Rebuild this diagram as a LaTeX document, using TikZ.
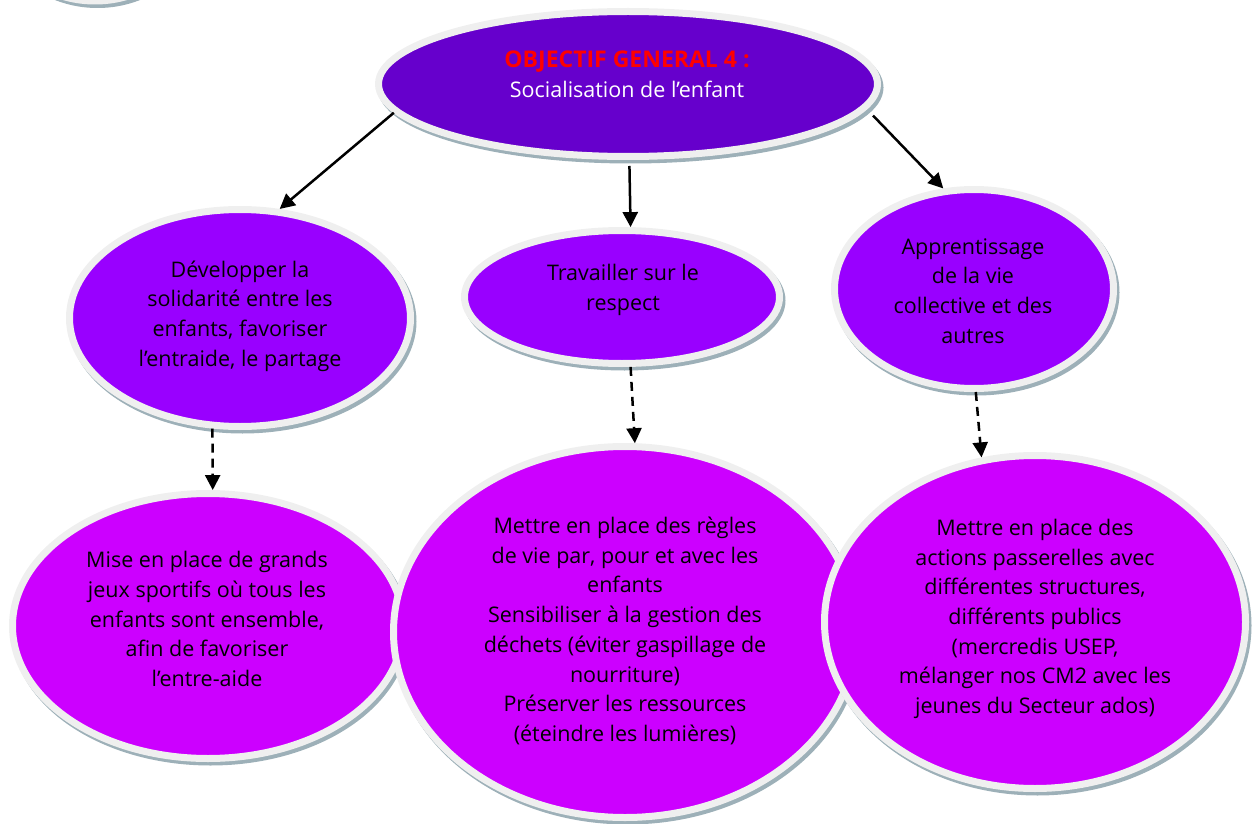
\documentclass[tikz,border=0pt]{standalone}
\usepackage{fontspec}
\setmainfont{Open Sans}
\usetikzlibrary{arrows.meta,shapes.geometric}
\definecolor{topc}{HTML}{6600CC}
\definecolor{midc}{HTML}{9900FF}
\definecolor{botc}{HTML}{CC00FF}
\definecolor{rimc}{HTML}{EFEFEF}
\definecolor{shadc}{HTML}{9DB0B8}
\definecolor{redt}{HTML}{FF0000}
\begin{document}
\begin{tikzpicture}[x=1pt,y=-1pt,
  bubble/.style={ellipse, draw=rimc, line width=7pt, inner sep=0pt,
    preaction={draw=shadc, fill=shadc, line width=7pt, transform canvas={xshift=2.5pt,yshift=-3.5pt}}},
  txt/.style={align=center, font=\fontsize{21.5}{29.7}\selectfont, inner sep=0pt},
  arr/.style={line width=2.5pt, -{Triangle[length=15pt,width=15pt]}},
  darr/.style={arr, dash pattern=on 9pt off 6pt}]
\useasboundingbox (0,0) rectangle (1256,824);
% partial ellipse at top left
\node[bubble, fill=white, minimum width=240, minimum height=254] (e7) at (95,-126) {};
% top
\node[bubble, fill=topc, minimum width=499, minimum height=145] (e0) at (628,84) {};
\node[txt] (t0) at (627,74) {{\color{redt}\fontsize{23}{29.7}\selectfont\bfseries OBJECTIF GENERAL 4 :}\\{\color{white}Socialisation de l’enfant}};
% middle row
\node[bubble, fill=midc, minimum width=341, minimum height=217] (e1) at (240,318) {};
\node[txt] (t1) at (240,316) {Développer la\\solidarité entre les\\enfants, favoriser\\l’entraide, le partage};
\node[bubble, fill=midc, minimum width=315, minimum height=133] (e2) at (622,297) {};
\node[txt] (t2) at (623,290) {Travailler sur le\\respect};
\node[bubble, fill=midc, minimum width=279, minimum height=199] (e3) at (974,289) {};
\node[txt] (t3) at (973,291) {Apprentissage\\de la vie\\collective et des\\autres};
% bottom row
\node[bubble, fill=botc, minimum width=391, minimum height=265] (e4) at (208,626) {};
\node[txt] (t4) at (207,619) {Mise en place de grands\\jeux sportifs où tous les\\enfants sont ensemble,\\afin de favoriser\\l’entre-aide};
\node[bubble, fill=botc, minimum width=463, minimum height=371] (e5) at (625,632) {};
\node[txt] (t5) at (625,631) {Mettre en place des règles\\de vie par, pour et avec les\\enfants\\Sensibiliser à la gestion des\\déchets (éviter gaspillage de\\nourriture)\\Préserver les ressources\\(éteindre les lumières)};
\node[bubble, fill=botc, minimum width=421, minimum height=333] (e6) at (1035,622) {};
\node[txt] (t6) at (1035,619) {Mettre en place des\\actions passerelles avec\\différentes structures,\\différents publics\\(mercredis USEP,\\mélanger nos CM2 avec les\\jeunes du Secteur ados)};
% arrows
\draw[arr] (e0.187) -- (e1.70);
\draw[arr, shorten <=6pt] (e0.-89) -- (e2.83);
\draw[arr, shorten <=9pt] (e0.354) -- (e3.107);
\draw[darr] (e1.256) -- (e4.88);
\draw[darr] (e2.277) -- (e5.87);
\draw[darr] (e3.271) -- (e6.108);
\end{tikzpicture}
\end{document}
